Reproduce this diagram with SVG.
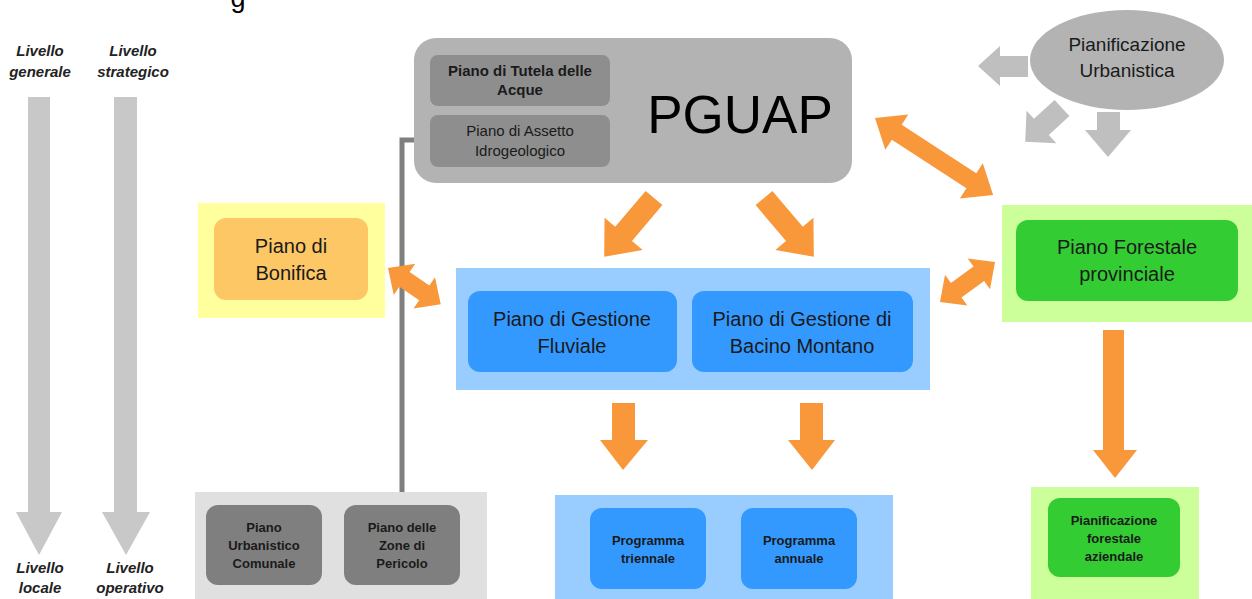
<svg xmlns="http://www.w3.org/2000/svg" width="1252" height="599" viewBox="0 0 1252 599">
  <style>
    text { font-family: "Liberation Sans", Arial, sans-serif; text-anchor: middle; fill: #1a1a1a; }
    .lvl { font-size: 15px; font-weight: bold; font-style: italic; fill: #222; }
    .sub { font-size: 15px; }
    .subb { font-size: 15px; font-weight: bold; }
    .mid { font-size: 20px; }
    .small { font-size: 13px; font-weight: bold; }
    .orange { fill: #f8983a; }
    .grey { fill: #bfbfbf; }
    .level { fill: #c8c8c8; }
  </style>

  <!-- heading fragment at top edge -->
  <text x="238" y="7" style="font-size:27px;text-anchor:middle;fill:#000">g</text>

  <!-- level scale on the left -->
  <g id="levels">
    <polygon class="level" points="28,97 50,97 50,512 62,512 39,555 16,512 28,512"/>
    <polygon class="level" points="114,97 137,97 137,512 150,512 126,555 102,512 114,512"/>
    <text class="lvl" x="40" y="56">Livello</text>
    <text class="lvl" x="40" y="77">generale</text>
    <text class="lvl" x="133" y="56">Livello</text>
    <text class="lvl" x="133" y="77">strategico</text>
    <text class="lvl" x="40" y="573">Livello</text>
    <text class="lvl" x="40" y="593">locale</text>
    <text class="lvl" x="130" y="573">Livello</text>
    <text class="lvl" x="130" y="593">operativo</text>
  </g>

  <!-- connectors -->
  <g id="connectors">
    <polyline points="432,140 402,140 402,505" fill="none" stroke="#7f7f7f" stroke-width="5"/>
    <!-- orange flows -->
    <polygon class="orange" transform="translate(875,118) rotate(33.1)" points="0,0 26,-21 26,-9 115,-9 115,-21 141,0 115,21 115,9 26,9 26,21"/>
    <polygon class="orange" transform="translate(388,268) rotate(34.5)" points="0,0 20,-19 20,-9 44,-9 44,-19 64,0 44,19 44,9 20,9 20,19"/>
    <polygon class="orange" transform="translate(940,302) rotate(-36)" points="0,0 20,-19 20,-9 48,-9 48,-19 68,0 48,19 48,9 20,9 20,19"/>
    <polygon class="orange" transform="translate(654,198) rotate(130.3)" points="0,-11 47,-11 47,-25 77,0 47,25 47,11 0,11"/>
    <polygon class="orange" transform="translate(764,198) rotate(49.7)" points="0,-11 47,-11 47,-25 77,0 47,25 47,11 0,11"/>
    <polygon class="orange" points="612,403 635,403 635,440 648,440 623,470 600,440 612,440"/>
    <polygon class="orange" points="800,403 823,403 823,440 835,440 812,470 788,440 800,440"/>
    <polygon class="orange" points="1103,330 1124,330 1124,450 1137,450 1115,478 1093,450 1103,450"/>
    <!-- grey flows from urban planning -->
    <polygon class="grey" points="1028,56 1000,56 1000,46 978,66 1000,86 1000,77 1028,77"/>
    <polygon class="grey" transform="translate(1062,108) rotate(137.4)" points="0,-11 28,-11 28,-22 50,0 28,22 28,11 0,11"/>
    <polygon class="grey" points="1097,112 1120,112 1120,130 1131,130 1108,157 1085,130 1097,130"/>
  </g>

  <!-- PGUAP -->
  <g id="pguap">
    <rect x="414" y="38" width="438" height="145" rx="22" fill="#b3b3b3"/>
    <text x="740" y="133" style="font-size:53px;fill:#000">PGUAP</text>
  </g>
  <g id="tutela">
    <rect x="430" y="55" width="180" height="51" rx="8" fill="#8e8e8e"/>
    <text class="subb" x="520" y="76">Piano di Tutela delle</text>
    <text class="subb" x="520" y="95">Acque</text>
  </g>
  <g id="assetto">
    <rect x="430" y="115" width="180" height="52" rx="8" fill="#8e8e8e"/>
    <text class="sub" x="520" y="136">Piano di Assetto</text>
    <text class="sub" x="520" y="156">Idrogeologico</text>
  </g>

  <!-- urban planning -->
  <g id="urbanistica">
    <ellipse cx="1127" cy="60" rx="97" ry="50" fill="#b3b3b3"/>
    <text x="1127" y="51" style="font-size:19px">Pianificazione</text>
    <text x="1127" y="77" style="font-size:19px">Urbanistica</text>
  </g>

  <!-- reclamation plan -->
  <g id="bonifica">
    <rect x="198" y="203" width="187" height="115" fill="#ffff9e"/>
    <rect x="214" y="218" width="154" height="82" rx="12" fill="#fdc766"/>
    <text class="mid" x="291" y="253">Piano di</text>
    <text class="mid" x="291" y="280">Bonifica</text>
  </g>

  <!-- river / basin management -->
  <g id="gestione">
    <rect x="456" y="268" width="474" height="122" fill="#99ccff"/>
    <rect x="468" y="291" width="209" height="81" rx="12" fill="#3399ff"/>
    <text class="mid" x="572" y="326">Piano di Gestione</text>
    <text class="mid" x="572" y="353">Fluviale</text>
    <rect x="692" y="291" width="221" height="81" rx="12" fill="#3399ff"/>
    <text class="mid" x="802" y="326">Piano di Gestione di</text>
    <text class="mid" x="802" y="353">Bacino Montano</text>
  </g>

  <!-- provincial forest plan -->
  <g id="forestale">
    <rect x="1002" y="205" width="250" height="117" fill="#ccff99"/>
    <rect x="1016" y="220" width="222" height="81" rx="12" fill="#33cc33"/>
    <text class="mid" x="1127" y="254">Piano Forestale</text>
    <text class="mid" x="1127" y="281">provinciale</text>
  </g>

  <!-- company forest planning -->
  <g id="aziendale">
    <rect x="1031" y="487" width="168" height="112" fill="#ccff99"/>
    <rect x="1048" y="498" width="132" height="79" rx="12" fill="#33cc33"/>
    <text class="small" x="1114" y="525">Pianificazione</text>
    <text class="small" x="1114" y="543">forestale</text>
    <text class="small" x="1114" y="561">aziendale</text>
  </g>

  <!-- programmes -->
  <g id="programmi">
    <rect x="555" y="495" width="338" height="104" fill="#99ccff"/>
    <rect x="590" y="508" width="116" height="81" rx="12" fill="#3399ff"/>
    <text class="small" x="648" y="545">Programma</text>
    <text class="small" x="648" y="563">triennale</text>
    <rect x="741" y="508" width="116" height="81" rx="12" fill="#3399ff"/>
    <text class="small" x="799" y="545">Programma</text>
    <text class="small" x="799" y="563">annuale</text>
  </g>

  <!-- municipal plans -->
  <g id="comunali">
    <rect x="195" y="492" width="292" height="107" fill="#e0e0e0"/>
    <rect x="206" y="505" width="116" height="80" rx="12" fill="#7f7f7f"/>
    <text class="small" x="264" y="532">Piano</text>
    <text class="small" x="264" y="550">Urbanistico</text>
    <text class="small" x="264" y="568">Comunale</text>
  </g>
  <g id="pericolo">
    <rect x="344" y="505" width="116" height="80" rx="12" fill="#7f7f7f"/>
    <text class="small" x="402" y="532">Piano delle</text>
    <text class="small" x="402" y="550">Zone di</text>
    <text class="small" x="402" y="568">Pericolo</text>
  </g>
</svg>
